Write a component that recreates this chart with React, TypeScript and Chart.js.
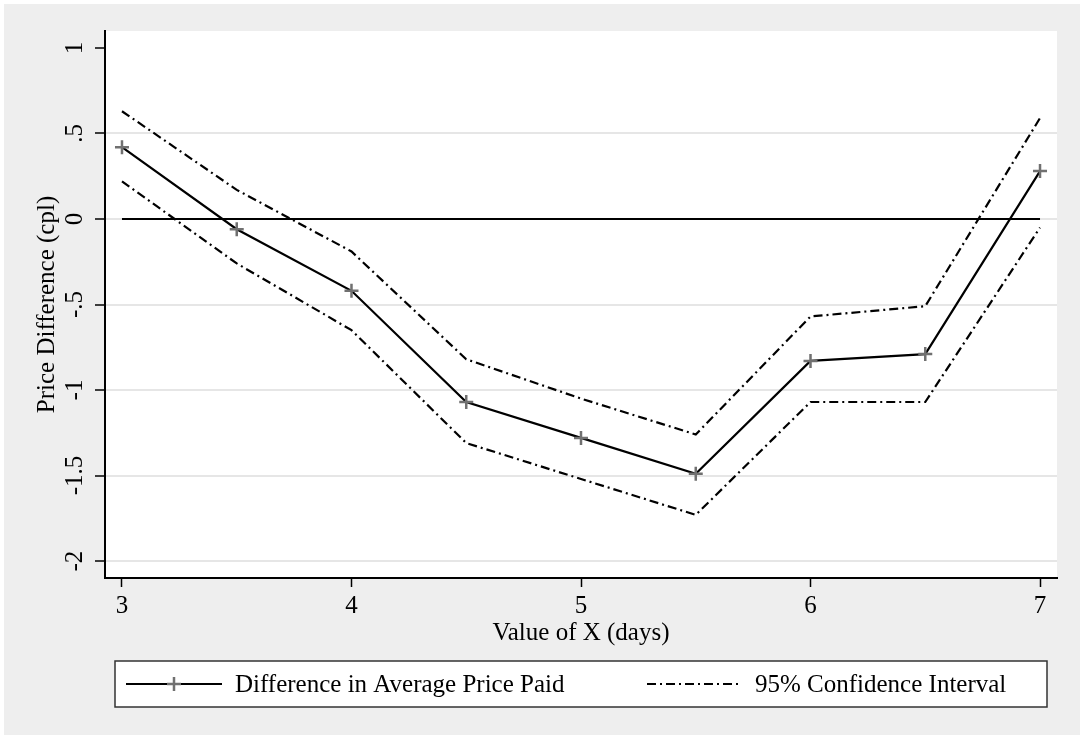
import React, { useEffect, useRef } from "react";
import { Chart, registerables } from "chart.js";

Chart.register(...registerables);

const xValues = [3, 3.5, 4, 4.5, 5, 5.5, 6, 6.5, 7];
const diffValues = [0.42, -0.06, -0.42, -1.07, -1.28, -1.49, -0.83, -0.79, 0.28];
const upperCI = [0.63, 0.17, -0.19, -0.82, -1.05, -1.26, -0.57, -0.51, 0.59];
const lowerCI = [0.22, -0.26, -0.65, -1.31, -1.52, -1.73, -1.07, -1.07, -0.05];
const xTicks = [3, 4, 5, 6, 7];
const yTicks = [1, 0.5, 0, -0.5, -1, -1.5, -2];
const yTickLabels = ["1", ".5", "0", "-.5", "-1", "-1.5", "-2"];
const refLineX = [3, 7];
const refLineY = [0, 0];
const legendLabels = ["Difference in Average Price Paid", "95% Confidence Interval"];
const xTitle = "Value of X (days)";
const yTitle = "Price Difference (cpl)";

const FONT = '"Liberation Serif", "Times New Roman", serif';
const DASH = [9, 4, 2, 4];
const MARKER = "#707070";
const FS = 25;

const decorPlugin = {
  id: "decor",
  beforeDraw(chart: any) {
    const ctx = chart.ctx;
    const { left, right, top, bottom } = chart.chartArea;
    ctx.save();
    ctx.fillStyle = "#ffffff";
    ctx.fillRect(0, 0, chart.width, chart.height);
    ctx.fillStyle = "#eeeeee";
    ctx.fillRect(4, 4, chart.width - 7, chart.height - 7);
    ctx.fillStyle = "#ffffff";
    ctx.fillRect(left, top, right - left, bottom - top);
    ctx.restore();
  },
  afterDraw(chart: any) {
    const ctx = chart.ctx;
    const { left, right, top, bottom } = chart.chartArea;
    const yScale = chart.scales.y;
    ctx.save();
    ctx.fillStyle = "#000";
    ctx.font = `${FS}px ${FONT}`;
    ctx.textAlign = "center";
    ctx.textBaseline = "middle";
    // y tick labels rotated
    yTicks.forEach((v, i) => {
      const py = yScale.getPixelForValue(v);
      ctx.save();
      ctx.translate(75, py);
      ctx.rotate(-Math.PI / 2);
      ctx.fillText(yTickLabels[i], 0, 0);
      ctx.restore();
    });
    // y title
    ctx.save();
    ctx.translate(47, (top + bottom) / 2);
    ctx.rotate(-Math.PI / 2);
    ctx.fillText(yTitle, 0, 0);
    ctx.restore();
    // x title
    ctx.fillText(xTitle, (left + right) / 2, 633);

    // legend
    const lx0 = 115, lx1 = 1047, ly0 = 661, ly1 = 707;
    const ly = (ly0 + ly1) / 2;
    ctx.fillStyle = "#ffffff";
    ctx.fillRect(lx0, ly0, lx1 - lx0, ly1 - ly0);
    ctx.strokeStyle = "#333333";
    ctx.lineWidth = 1.5;
    ctx.strokeRect(lx0, ly0, lx1 - lx0, ly1 - ly0);

    ctx.strokeStyle = "#000";
    ctx.lineWidth = 2.2;
    ctx.beginPath();
    ctx.moveTo(126, ly);
    ctx.lineTo(222, ly);
    ctx.stroke();
    ctx.strokeStyle = MARKER;
    ctx.lineWidth = 2.5;
    ctx.beginPath();
    ctx.moveTo(167, ly);
    ctx.lineTo(181, ly);
    ctx.moveTo(174, ly - 7);
    ctx.lineTo(174, ly + 7);
    ctx.stroke();

    ctx.strokeStyle = "#000";
    ctx.lineWidth = 2.2;
    ctx.setLineDash(DASH);
    ctx.beginPath();
    ctx.moveTo(647, ly);
    ctx.lineTo(742, ly);
    ctx.stroke();
    ctx.setLineDash([]);

    ctx.fillStyle = "#000";
    ctx.textAlign = "left";
    ctx.font = `${FS}px ${FONT}`;
    ctx.fillText(legendLabels[0], 235, ly + 1);
    ctx.fillText(legendLabels[1], 755, ly + 1);
    ctx.restore();
  },
};

export default function App() {
  const canvasRef = useRef<HTMLCanvasElement | null>(null);

  useEffect(() => {
    document.body.style.margin = "0";
    const canvas = canvasRef.current;
    if (!canvas) return;
    const toPts = (ys: number[]) => xValues.map((x, i) => ({ x, y: ys[i] }));
    const chart = new Chart(canvas, {
      type: "line",
      data: {
        datasets: [
          {
            label: "zero",
            data: refLineX.map((x, i) => ({ x, y: refLineY[i] })),
            borderColor: "#000",
            borderWidth: 2.2,
            pointRadius: 0,
          },
          {
            label: legendLabels[1],
            data: toPts(upperCI),
            borderColor: "#000",
            borderWidth: 2.2,
            borderDash: DASH,
            pointRadius: 0,
          },
          {
            label: legendLabels[1] + " lower",
            data: toPts(lowerCI),
            borderColor: "#000",
            borderWidth: 2.2,
            borderDash: DASH,
            pointRadius: 0,
          },
          {
            label: legendLabels[0],
            data: toPts(diffValues),
            borderColor: "#000",
            borderWidth: 2.2,
            pointStyle: "cross",
            pointRadius: 7,
            pointBorderColor: MARKER,
            pointBorderWidth: 2.5,
            pointBackgroundColor: MARKER,
          },
        ],
      },
      options: {
        animation: false,
        responsive: false,
        maintainAspectRatio: false,
        devicePixelRatio: 1,
        layout: { padding: { left: 0, right: 26, top: 31, bottom: 88 } },
        plugins: {
          legend: { display: false },
          tooltip: { enabled: false },
        },
        scales: {
          x: {
            type: "linear",
            min: 2.926,
            max: 7.074,
            afterBuildTicks: (s: any) => {
              s.ticks = xTicks.map((v) => ({ value: v }));
            },
            afterFit: (s: any) => {
              s.height = 72;
            },
            grid: {
              display: true,
              drawOnChartArea: false,
              drawTicks: true,
              tickLength: 9,
              tickColor: "#000",
              tickWidth: 1.5,
            },
            border: { display: true, color: "#000", width: 2 },
            ticks: {
              color: "#000",
              font: { family: FONT, size: FS },
              padding: 4,
              maxRotation: 0,
              callback: (v: any) => String(v),
            },
          },
          y: {
            type: "linear",
            min: -2.099,
            max: 1.099,
            afterBuildTicks: (s: any) => {
              s.ticks = yTicks.map((v) => ({ value: v }));
            },
            afterFit: (s: any) => {
              s.width = 105;
            },
            grid: {
              color: (c: any) => (c.tick && c.tick.value === 1 ? "rgba(0,0,0,0)" : "#e6e6e6"),
              lineWidth: 2,
              drawTicks: true,
              tickLength: 10,
              tickColor: "#000",
              tickWidth: 1.5,
            },
            border: { display: true, color: "#000", width: 2 },
            ticks: { display: false },
          },
        },
      },
      plugins: [decorPlugin],
    });
    return () => chart.destroy();
  }, []);

  return (
    <div style={{ width: 1083, height: 738 }}>
      <canvas ref={canvasRef} width={1083} height={738} style={{ display: "block" }} />
    </div>
  );
}
